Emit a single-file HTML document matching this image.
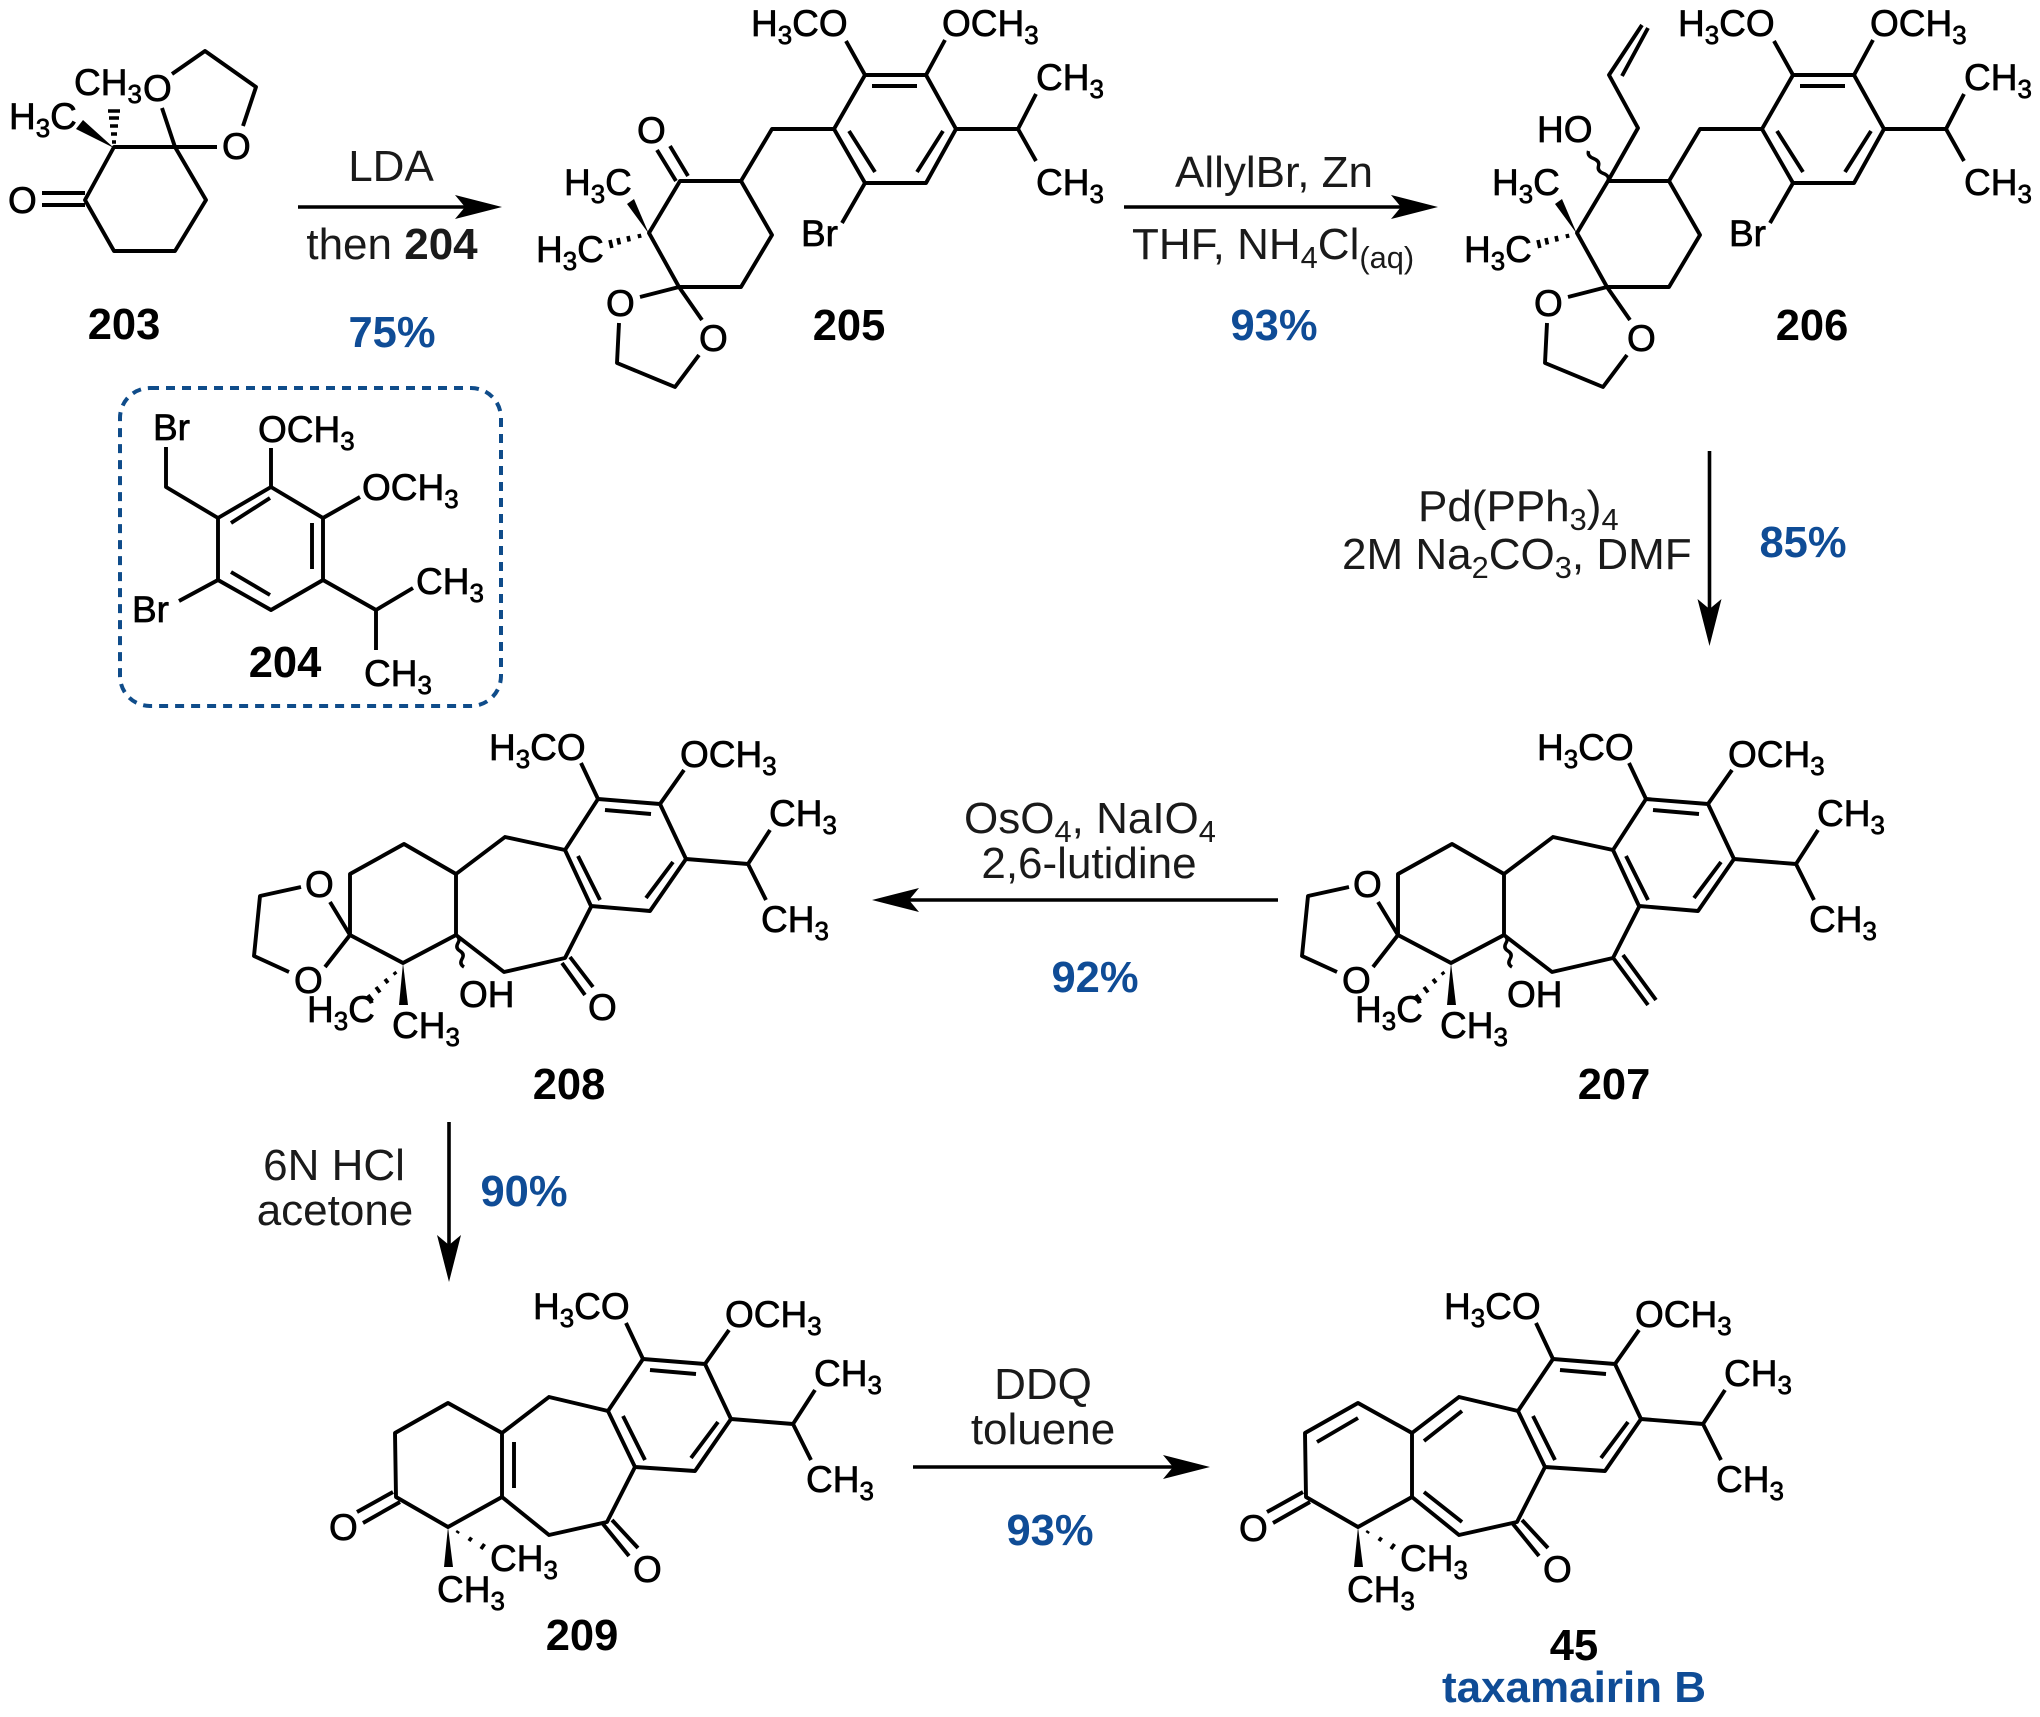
<!DOCTYPE html>
<html><head><meta charset="utf-8"><style>
html,body{margin:0;padding:0;background:#fff}
svg{display:block}
text{font-family:"Liberation Sans",sans-serif}
.a{font-size:37px;fill:#000;stroke:#000;stroke-width:.7}
.r{font-size:44px;fill:#1a1a1a}
.b{font-size:43.5px;font-weight:700;fill:#000;text-anchor:middle}
.c{font-size:43.5px;font-weight:700;fill:#0f4c96;text-anchor:middle}
.m{text-anchor:middle}
.s{font-size:70%}
.k{fill:none;stroke:#000;stroke-width:3.9;stroke-linejoin:round;stroke-linecap:butt}
.h{fill:none;stroke:#000;stroke-width:3.6}
.w{fill:none;stroke:#000;stroke-width:3.4}
.l{stroke:#000;stroke-width:3.6;fill:none}
</style></head><body>
<svg width="2040" height="1717" viewBox="0 0 2040 1717" xmlns="http://www.w3.org/2000/svg">
<rect width="2040" height="1717" fill="#fff"/>

<!-- 203 -->
<path class="k" d="M114 147L175 147L206 200L175 251L114 251L85 200Z"/>
<path class="k" d="M175 147L217 147M175 147L162 108M85 193H42M85 205H42M172 74L205 51L256 87L243 126"/>
<polygon points="114,148 76,129 83,120"/>
<path class="h" d="M112 142h4M111 134h6M110 126h8M109 118h10M108 111h12"/>
<text class="a" x="74" y="95">CH<tspan class="s" dy="8">3</tspan></text>
<text class="a" x="143" y="101">O</text>
<text class="a" x="222" y="159">O</text>
<text class="a" x="9" y="129">H<tspan class="s" dy="8">3</tspan><tspan dy="-8">C</tspan></text>
<text class="a" x="8" y="213">O</text>
<text class="b" x="124" y="339">203</text>

<!-- arrow 1 -->
<path class="l" d="M298 207H480"/>
<polygon points="502,207 455,195 465,207 455,219"/>
<text class="r m" x="391" y="181">LDA</text>
<text class="r m" x="392" y="259">then <tspan font-weight="700">204</tspan></text>
<text class="c" x="392" y="347">75%</text>

<!-- 204 box -->
<rect x="120" y="388" width="381" height="318" rx="30" fill="none" stroke="#0f4c8a" stroke-width="4" stroke-dasharray="9 7"/>
<path class="k" d="M271 487L323 518V580L271 610L218 580V518Z"/>
<path class="k" d="M231 523L270 498M312 523V569M231 572L270 595"/>
<path class="k" d="M271 487V448M323 518L360 497M218 518L166 487V447M218 580L179 601M323 580L376 610L413 588M376 610V650"/>
<text class="a" x="153" y="440">Br</text>
<text class="a" x="258" y="442">OCH<tspan class="s" dy="8">3</tspan></text>
<text class="a" x="362" y="500">OCH<tspan class="s" dy="8">3</tspan></text>
<text class="a" x="132" y="622">Br</text>
<text class="a" x="416" y="594">CH<tspan class="s" dy="8">3</tspan></text>
<text class="a" x="364" y="686">CH<tspan class="s" dy="8">3</tspan></text>
<text class="b" x="285" y="677">204</text>

<!-- 205 -->
<path class="k" d="M680 181L741 181L772 235L741 287L679 287L649 233Z"/>
<path class="k" d="M741 181L772 129H834M834 129L865 75H926L956 129L926 183H865Z"/>
<path class="k" d="M872 86H917M849 131L875 172M943 131L917 172"/>
<path class="k" d="M865 75L846 41M926 75L945 40M956 129H1018L1036 94M1018 129L1036 161M865 183L842 223"/>
<path class="k" d="M679 287L640 297M679 287L702 320M619 323L617 363L675 387L699 355"/>
<polygon points="649,234 627,204 634,199"/>
<path class="h" d="M639 234l1 4M628 236l1.2 5.5M618 238l1.4 6.5M610 240l1.8 8"/>
<path class="k" d="M657 150L676 181M670 146L688 176"/>
<text class="a" x="751" y="36">H<tspan class="s" dy="8">3</tspan><tspan dy="-8">CO</tspan></text>
<text class="a" x="942" y="36">OCH<tspan class="s" dy="8">3</tspan></text>
<text class="a" x="1036" y="90">CH<tspan class="s" dy="8">3</tspan></text>
<text class="a" x="1036" y="195">CH<tspan class="s" dy="8">3</tspan></text>
<text class="a" x="801" y="246">Br</text>
<text class="a" x="637" y="143">O</text>
<text class="a" x="564" y="195">H<tspan class="s" dy="8">3</tspan><tspan dy="-8">C</tspan></text>
<text class="a" x="536" y="262">H<tspan class="s" dy="8">3</tspan><tspan dy="-8">C</tspan></text>
<text class="a" x="606" y="316">O</text>
<text class="a" x="699" y="351">O</text>
<text class="b" x="849" y="340">205</text>

<!-- arrow 2 -->
<path class="l" d="M1124 207H1415"/>
<polygon points="1438,207 1391,195 1401,207 1391,219"/>
<text class="r m" x="1274" y="187">AllylBr, Zn</text>
<text class="r" x="1132" y="259">THF, NH<tspan class="s" dy="9">4</tspan><tspan dy="-9">Cl</tspan><tspan class="s" dy="9">(aq)</tspan></text>
<text class="c" x="1274" y="340">93%</text>

<!-- 206 -->
<g transform="translate(928,0)">
<path class="k" d="M680 181L741 181L772 235L741 287L679 287L649 233Z"/>
<path class="k" d="M741 181L772 129H834M834 129L865 75H926L956 129L926 183H865Z"/>
<path class="k" d="M872 86H917M849 131L875 172M943 131L917 172"/>
<path class="k" d="M865 75L846 41M926 75L945 40M956 129H1018L1036 94M1018 129L1036 161M865 183L842 223"/>
<path class="k" d="M679 287L640 297M679 287L702 320M619 323L617 363L675 387L699 355"/>
<polygon points="649,234 627,204 634,199"/>
<path class="h" d="M639 234l1 4M628 236l1.2 5.5M618 238l1.4 6.5M610 240l1.8 8"/>
</g>
<path class="k" d="M1608 181L1638 128L1609 75L1642 25M1622 76L1648 28"/>
<path class="w" d="M1608 181q2 -5 -4.5 -7.5t-5 -7.5t-5 -7.5t-5 -7.5"/>
<text class="a" x="1537" y="142">HO</text>
<text class="a" x="1678" y="36">H<tspan class="s" dy="8">3</tspan><tspan dy="-8">CO</tspan></text>
<text class="a" x="1870" y="36">OCH<tspan class="s" dy="8">3</tspan></text>
<text class="a" x="1964" y="90">CH<tspan class="s" dy="8">3</tspan></text>
<text class="a" x="1964" y="195">CH<tspan class="s" dy="8">3</tspan></text>
<text class="a" x="1729" y="246">Br</text>
<text class="a" x="1492" y="195">H<tspan class="s" dy="8">3</tspan><tspan dy="-8">C</tspan></text>
<text class="a" x="1464" y="262">H<tspan class="s" dy="8">3</tspan><tspan dy="-8">C</tspan></text>
<text class="a" x="1534" y="316">O</text>
<text class="a" x="1627" y="351">O</text>
<text class="b" x="1812" y="340">206</text>

<!-- arrow 3 -->
<path class="l" d="M1709.5 451V625"/>
<polygon points="1709.5,646 1697.5,599 1709.5,609 1721.5,599"/>
<text class="r" x="1418" y="521">Pd(PPh<tspan class="s" dy="9">3</tspan><tspan dy="-9">)</tspan><tspan class="s" dy="9">4</tspan></text>
<text class="r" x="1342" y="569">2M Na<tspan class="s" dy="9">2</tspan><tspan dy="-9">CO</tspan><tspan class="s" dy="9">3</tspan><tspan dy="-9">, DMF</tspan></text>
<text class="c" x="1803" y="557">85%</text>

<!-- 208 -->
<path class="k" d="M565 850L598 799L660 804L686 859L650 911L591 906Z"/>
<path class="k" d="M605 810L651 814M578 856L600 900M673 862L646 898"/>
<path class="k" d="M598 799L581 763M660 804L684 770M686 859L748 864L770 830M748 864L766 900"/>
<path class="k" d="M565 850L505 837L456 874L456 935L504 972L565 958L592 905"/>
<path class="k" d="M456 874L404 844L350 874L350 935L403 963L456 935"/>
<path class="k" d="M350 935L330 902M350 935L325 967M301 887L260 896L254 956L289 972"/>
<path class="k" d="M570 957L593 987M562 963L585 995"/>
<polygon points="403,963 399,1005 408,1005"/>
<path class="h" d="M394 972l2 2.5M385 979l3 4M376 987l4 5.5M368 995l4.5 6"/>
<path class="w" d="M456 935q5 3 2 8t2 8t2 8t2 8"/>
<text class="a" x="489" y="760">H<tspan class="s" dy="8">3</tspan><tspan dy="-8">CO</tspan></text>
<text class="a" x="680" y="767">OCH<tspan class="s" dy="8">3</tspan></text>
<text class="a" x="769" y="826">CH<tspan class="s" dy="8">3</tspan></text>
<text class="a" x="761" y="932">CH<tspan class="s" dy="8">3</tspan></text>
<text class="a" x="305" y="897">O</text>
<text class="a" x="294" y="993">O</text>
<text class="a" x="307" y="1022">H<tspan class="s" dy="8">3</tspan><tspan dy="-8">C</tspan></text>
<text class="a" x="392" y="1038">CH<tspan class="s" dy="8">3</tspan></text>
<text class="a" x="459" y="1007">OH</text>
<text class="a" x="588" y="1020">O</text>
<text class="b" x="569" y="1099">208</text>

<!-- arrow 4 -->
<path class="l" d="M1278 900H895"/>
<polygon points="872,900 919,888 909,900 919,912"/>
<text class="r m" x="1090" y="833">OsO<tspan class="s" dy="9">4</tspan><tspan dy="-9">, NaIO</tspan><tspan class="s" dy="9">4</tspan></text>
<text class="r m" x="1089" y="878">2,6-lutidine</text>
<text class="c" x="1095" y="992">92%</text>

<!-- 207 -->
<g transform="translate(1048,0)">
<path class="k" d="M565 850L598 799L660 804L686 859L650 911L591 906Z"/>
<path class="k" d="M605 810L651 814M578 856L600 900M673 862L646 898"/>
<path class="k" d="M598 799L581 763M660 804L684 770M686 859L748 864L770 830M748 864L766 900"/>
<path class="k" d="M565 850L505 837L456 874L456 935L504 972L565 958L592 905"/>
<path class="k" d="M456 874L404 844L350 874L350 935L403 963L456 935"/>
<path class="k" d="M350 935L330 902M350 935L325 967M301 887L260 896L254 956L289 972"/>
<path class="k" d="M566 959L600 1005M575 955L608 1000"/>
<polygon points="403,963 399,1005 408,1005"/>
<path class="h" d="M394 972l2 2.5M385 979l3 4M376 987l4 5.5M368 995l4.5 6"/>
<path class="w" d="M456 935q5 3 2 8t2 8t2 8t2 8"/>
<text class="a" x="489" y="760">H<tspan class="s" dy="8">3</tspan><tspan dy="-8">CO</tspan></text>
<text class="a" x="680" y="767">OCH<tspan class="s" dy="8">3</tspan></text>
<text class="a" x="769" y="826">CH<tspan class="s" dy="8">3</tspan></text>
<text class="a" x="761" y="932">CH<tspan class="s" dy="8">3</tspan></text>
<text class="a" x="305" y="897">O</text>
<text class="a" x="294" y="993">O</text>
<text class="a" x="307" y="1022">H<tspan class="s" dy="8">3</tspan><tspan dy="-8">C</tspan></text>
<text class="a" x="392" y="1038">CH<tspan class="s" dy="8">3</tspan></text>
<text class="a" x="459" y="1007">OH</text>
<text class="b" x="566" y="1099">207</text>
</g>

<!-- arrow 5 -->
<path class="l" d="M449 1122V1260"/>
<polygon points="449,1282 437,1235 449,1245 461,1235"/>
<text class="r m" x="334" y="1180">6N HCl</text>
<text class="r m" x="335" y="1225">acetone</text>
<text class="c" x="524" y="1206">90%</text>

<!-- 209 -->
<path class="k" d="M608 1411L643 1359L705 1364L731 1419L695 1471L635 1467Z"/>
<path class="k" d="M650 1370L696 1374M623 1416L645 1460M718 1422L691 1458"/>
<path class="k" d="M643 1359L626 1323M705 1364L729 1330M731 1419L793 1424L815 1390M793 1424L811 1460"/>
<path class="k" d="M608 1411L549 1397L502 1433V1497L549 1535L607 1522L635 1467"/>
<path class="k" d="M514 1442V1488M502 1433L448 1403L395 1433L396 1497L448 1527L502 1497"/>
<path class="k" d="M357 1512L393 1492M363 1523L400 1502M612 1520L638 1548M603 1524L629 1556"/>
<polygon points="448,1527 444,1567 453,1567"/>
<path class="h" d="M457 1533l1.4 -2M469 1541l2.5 -3.5M481 1549l3.5 -5"/>
<text class="a" x="533" y="1319">H<tspan class="s" dy="8">3</tspan><tspan dy="-8">CO</tspan></text>
<text class="a" x="725" y="1327">OCH<tspan class="s" dy="8">3</tspan></text>
<text class="a" x="814" y="1386">CH<tspan class="s" dy="8">3</tspan></text>
<text class="a" x="806" y="1492">CH<tspan class="s" dy="8">3</tspan></text>
<text class="a" x="329" y="1540">O</text>
<text class="a" x="490" y="1571">CH<tspan class="s" dy="8">3</tspan></text>
<text class="a" x="437" y="1602">CH<tspan class="s" dy="8">3</tspan></text>
<text class="a" x="633" y="1582">O</text>
<text class="b" x="582" y="1650">209</text>

<!-- arrow 6 -->
<path class="l" d="M913 1467H1188"/>
<polygon points="1210,1467 1163,1455 1173,1467 1163,1479"/>
<text class="r m" x="1043" y="1399">DDQ</text>
<text class="r m" x="1043" y="1444">toluene</text>
<text class="c" x="1050" y="1545">93%</text>

<!-- 45 -->
<path class="k" d="M1518 1411L1553 1359L1615 1364L1641 1419L1605 1471L1545 1467Z"/>
<path class="k" d="M1560 1370L1606 1374M1533 1416L1555 1460M1628 1422L1601 1458"/>
<path class="k" d="M1553 1359L1536 1323M1615 1364L1639 1330M1641 1419L1703 1424L1725 1390M1703 1424L1721 1460"/>
<path class="k" d="M1518 1411L1459 1397L1412 1433V1497L1459 1535L1517 1522L1545 1467"/>
<path class="k" d="M1424 1441L1462 1411M1424 1492L1462 1522"/>
<path class="k" d="M1412 1433L1358 1403L1305 1433L1306 1497L1358 1527L1412 1497M1317 1442L1358 1418"/>
<path class="k" d="M1267 1512L1303 1492M1273 1523L1310 1502M1522 1520L1548 1548M1513 1524L1539 1556"/>
<polygon points="1358,1527 1354,1567 1363,1567"/>
<path class="h" d="M1367 1533l1.4 -2M1379 1541l2.5 -3.5M1391 1549l3.5 -5"/>
<text class="a" x="1444" y="1319">H<tspan class="s" dy="8">3</tspan><tspan dy="-8">CO</tspan></text>
<text class="a" x="1635" y="1327">OCH<tspan class="s" dy="8">3</tspan></text>
<text class="a" x="1724" y="1386">CH<tspan class="s" dy="8">3</tspan></text>
<text class="a" x="1716" y="1492">CH<tspan class="s" dy="8">3</tspan></text>
<text class="a" x="1239" y="1541">O</text>
<text class="a" x="1400" y="1571">CH<tspan class="s" dy="8">3</tspan></text>
<text class="a" x="1347" y="1602">CH<tspan class="s" dy="8">3</tspan></text>
<text class="a" x="1543" y="1582">O</text>
<text class="b" x="1574" y="1660">45</text>
<text class="c" x="1574" y="1702" style="font-size:44px">taxamairin B</text>
</svg>
</body></html>
